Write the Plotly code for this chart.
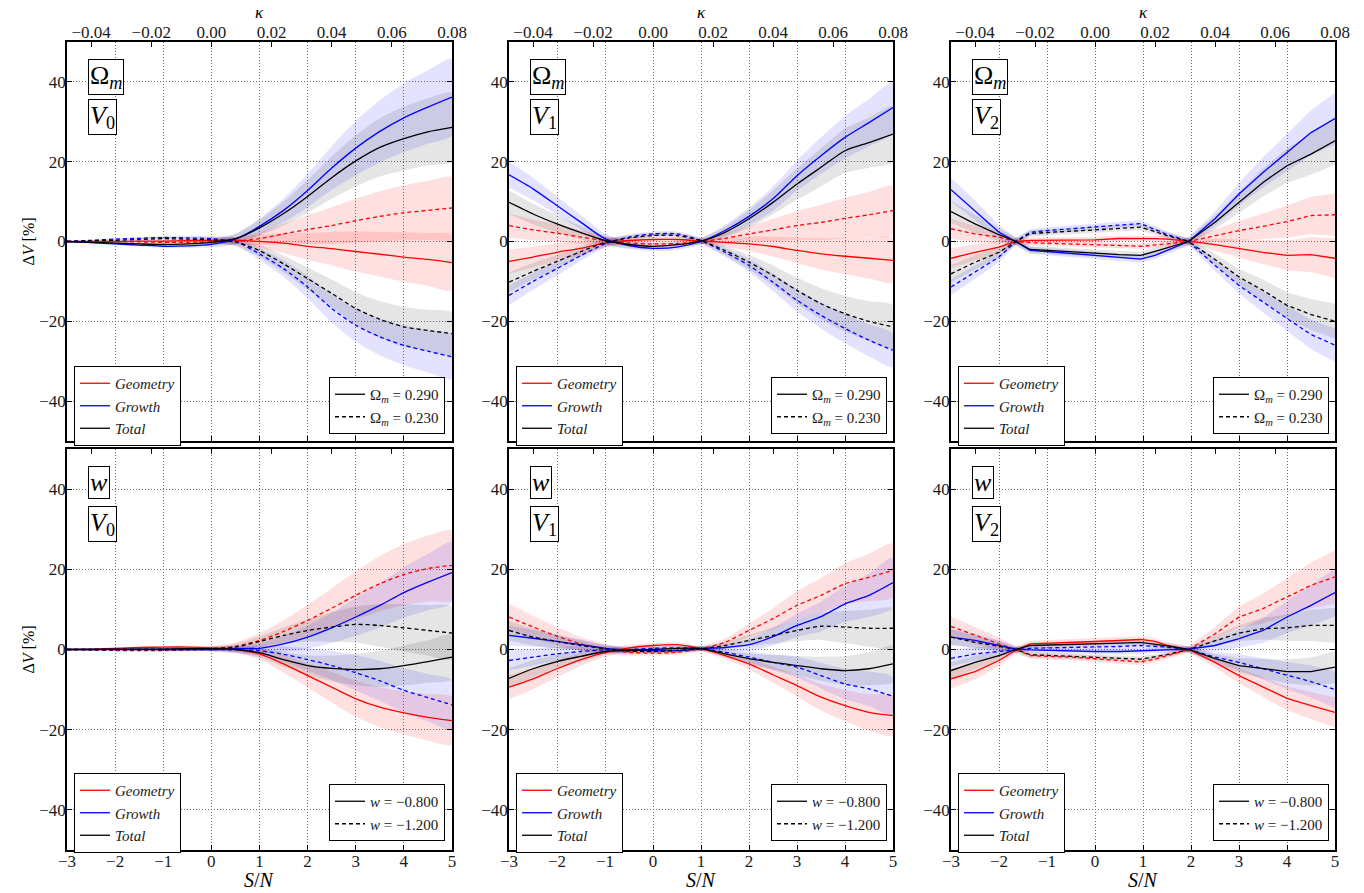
import plotly.graph_objects as go

# ---------------------------------------------------------------- grids / ticks
SN = [-3.0, -2.5, -2.0, -1.5, -1.0, -0.5, 0.0, 0.5, 1.0, 1.5, 2.0, 2.5, 3.0, 3.5, 4.0, 4.5, 5.0]
SN_V2 = [-3.0, -2.5, -2.0, -1.65, -1.35, -1.0, -0.5, 0.0, 0.5, 0.95, 1.25, 1.5, 1.95,
         2.5, 3.0, 3.5, 4.0, 4.5, 5.0]

SN_TICKS = [-3, -2, -1, 0, 1, 2, 3, 4, 5]
Y_TICKS = [-40, -20, 0, 20, 40]
KAPPA_TICKS = [-0.04, -0.02, 0.00, 0.02, 0.04, 0.06, 0.08]
KAPPA_RANGE = [-0.048, 0.08]
SN_RANGE = [-3, 5]
Y_RANGE = [-50, 50]

# ---------------------------------------------------------------- Omega_m, V0
OM_V0_GEO_A = [0, 0, 0, 0.1, 0.1, 0.2, 0.3, 0.3, 0.0, -0.4, -1.2, -1.8, -2.5, -3.2, -3.9, -4.5, -5.3]
OM_V0_GEO_B = [0, 0, 0, -0.1, -0.2, -0.2, -0.1, 0.1, 0.7, 1.9, 3.0, 4.0, 5.2, 6.3, 7.2, 7.8, 8.4]
OM_V0_GRO_A = [0, -0.3, -0.6, -0.9, -1.2, -1.1, -0.7, 0.6, 3.8, 7.8, 12.8, 18.4, 23.4, 27.6, 31.0, 33.7, 36.2]
OM_V0_GRO_B = [0, 0.3, 0.6, 0.8, 1.0, 0.9, 0.7, 0.0, -3.1, -6.8, -11.4, -16.8, -21.0, -23.9, -26.0, -27.5, -28.9]
OM_V0_TOT_A = [0, -0.2, -0.4, -0.6, -0.75, -0.6, -0.2, 0.7, 3.4, 7.0, 11.3, 16.0, 20.2, 23.6, 25.8, 27.5, 28.6]
OM_V0_TOT_B = [0, 0.2, 0.3, 0.5, 0.7, 0.6, 0.4, -0.1, -2.3, -5.6, -9.3, -13.0, -16.8, -19.5, -21.4, -22.3, -23.1]
OM_V0_GEO_A_ERR = [0, 0, 0, 0.1, 0.2, 0.3, 0.5, 0.9, 1.6, 2.5, 3.4, 4.2, 5.0, 5.6, 6.2, 6.6, 7.0]
OM_V0_GEO_B_ERR = [0, 0, 0, 0.1, 0.2, 0.3, 0.5, 0.9, 1.6, 2.6, 3.6, 4.6, 5.5, 6.3, 6.9, 7.4, 7.7]
OM_V0_GRO_A_ERR = [0, 0.1, 0.2, 0.3, 0.4, 0.5, 0.8, 1.3, 2.0, 3.0, 4.2, 5.5, 6.8, 7.8, 8.6, 9.2, 9.6]
OM_V0_GRO_B_ERR = [0, 0.1, 0.2, 0.3, 0.4, 0.5, 0.7, 1.0, 1.5, 2.1, 2.8, 3.5, 4.1, 4.6, 5.0, 5.3, 5.6]
OM_V0_TOT_A_ERR = [0, 0.1, 0.2, 0.3, 0.4, 0.5, 0.8, 1.3, 2.0, 3.0, 4.1, 5.3, 6.4, 7.3, 8.0, 8.4, 8.6]
OM_V0_TOT_B_ERR = [0, 0.1, 0.2, 0.3, 0.4, 0.5, 0.7, 1.0, 1.5, 2.1, 2.8, 3.5, 4.1, 4.6, 5.0, 5.2, 5.3]

# ---------------------------------------------------------------- Omega_m, V1
OM_V1_GEO_A = [-5.0, -3.9, -2.7, -1.7, -0.4, 0.25, 0.5, 0.5, 0.1, -0.2, -0.6, -1.25, -2.25, -3.1, -3.7, -4.2, -4.75]
OM_V1_GEO_B = [4.0, 2.9, 2.1, 1.1, 0.25, -0.4, -0.6, -0.5, 0.0, 0.8, 1.9, 2.9, 4.0, 4.8, 5.8, 6.7, 7.75]
OM_V1_GRO_A = [16.7, 13.2, 9.0, 4.8, 0.7, -1.0, -1.7, -1.4, 0.0, 2.75, 6.3, 10.7, 16.5, 21.5, 26.1, 29.8, 33.6]
OM_V1_GRO_B = [-13.5, -10.0, -6.8, -3.5, -0.6, 1.1, 1.9, 1.9, 0.2, -2.7, -6.0, -10.2, -14.75, -18.5, -21.8, -24.75, -27.25]
OM_V1_TOT_A = [9.8, 6.9, 4.4, 2.2, 0.25, -0.75, -1.2, -0.8, 0.1, 2.3, 5.7, 9.8, 14.4, 18.6, 22.75, 24.8, 26.9]
OM_V1_TOT_B = [-10.2, -7.5, -5.0, -2.5, -0.3, 0.9, 1.5, 1.5, 0.2, -2.25, -5.2, -8.5, -12.25, -15.6, -18.1, -20.0, -21.4]
OM_V1_GEO_A_ERR = [3.0, 2.6, 2.2, 1.7, 1.2, 0.8, 0.6, 0.6, 0.7, 1.2, 1.8, 2.5, 3.2, 3.9, 4.5, 5.1, 5.6]
OM_V1_GEO_B_ERR = [3.0, 2.6, 2.2, 1.7, 1.2, 0.8, 0.6, 0.6, 0.7, 1.3, 2.0, 2.8, 3.6, 4.4, 5.1, 5.7, 6.2]
OM_V1_GRO_A_ERR = [3.2, 2.8, 2.3, 1.8, 1.3, 0.9, 0.7, 0.7, 0.8, 1.4, 2.2, 3.0, 3.8, 4.6, 5.3, 5.9, 6.4]
OM_V1_GRO_B_ERR = [2.5, 2.1, 1.7, 1.3, 0.9, 0.7, 0.6, 0.6, 0.7, 1.1, 1.6, 2.2, 2.8, 3.3, 3.7, 4.0, 4.2]
OM_V1_TOT_A_ERR = [3.0, 2.6, 2.2, 1.7, 1.2, 0.9, 0.7, 0.7, 0.8, 1.4, 2.2, 3.0, 3.9, 4.8, 5.6, 6.3, 7.0]
OM_V1_TOT_B_ERR = [2.5, 2.1, 1.7, 1.3, 0.9, 0.7, 0.6, 0.6, 0.7, 1.2, 1.8, 2.5, 3.2, 3.9, 4.5, 5.0, 5.4]

# ---------------------------------------------------------------- Omega_m, V2
OM_V2_GEO_A = [-4.2, -2.7, -1.4, 0.0, 0.3, 0.3, 0.3, 0.4, 0.75, 0.8, 0.7, 0.6, 0.1, -0.8, -1.8, -2.7, -3.5, -3.3, -4.2]
OM_V2_GEO_B = [3.2, 1.9, 1.1, 0.0, -0.3, -0.4, -0.6, -0.8, -1.0, -1.2, -0.9, -0.6, 0.0, 1.5, 2.75, 3.8, 5.0, 6.5, 6.7]
OM_V2_GRO_A = [13.0, 7.75, 2.3, 0.0, -2.2, -2.5, -3.0, -3.5, -4.0, -4.4, -3.5, -2.3, 0.0, 5.7, 11.9, 17.3, 22.3, 27.3, 30.8]
OM_V2_GRO_B = [-11.4, -7.7, -3.9, 0.0, 2.3, 2.75, 3.2, 3.6, 4.2, 4.5, 3.0, 1.8, 0.0, -6.0, -11.0, -15.2, -19.3, -23.3, -26.0]
OM_V2_TOT_A = [7.5, 4.4, 1.7, 0.0, -2.0, -2.2, -2.6, -2.9, -3.3, -3.5, -2.5, -1.6, 0.0, 4.8, 9.8, 14.8, 19.0, 21.9, 25.25]
OM_V2_TOT_B = [-8.1, -5.2, -2.7, 0.0, 2.0, 2.3, 2.6, 2.9, 3.3, 3.6, 2.5, 1.5, 0.0, -4.5, -8.9, -12.25, -16.0, -18.3, -20.0]
OM_V2_GEO_A_ERR = [2.5, 2.0, 1.5, 0.8, 0.7, 0.7, 0.7, 0.7, 0.7, 0.7, 0.7, 0.8, 0.8, 1.5, 2.2, 3.0, 3.7, 4.4, 5.0]
OM_V2_GEO_B_ERR = [2.5, 2.0, 1.5, 0.8, 0.7, 0.7, 0.7, 0.7, 0.7, 0.7, 0.7, 0.8, 0.8, 1.6, 2.4, 3.2, 4.0, 4.7, 5.3]
OM_V2_GRO_A_ERR = [3.0, 2.5, 1.8, 1.0, 0.9, 0.9, 0.9, 0.9, 0.9, 0.9, 0.9, 1.0, 1.0, 1.8, 2.8, 3.8, 4.7, 5.6, 6.5]
OM_V2_GRO_B_ERR = [2.0, 1.7, 1.3, 0.8, 0.8, 0.8, 0.8, 0.8, 0.8, 0.8, 0.8, 0.8, 0.8, 1.4, 2.0, 2.6, 3.2, 3.7, 4.2]
OM_V2_TOT_A_ERR = [2.8, 2.3, 1.7, 1.0, 0.9, 0.9, 0.9, 0.9, 0.9, 0.9, 0.9, 1.0, 1.0, 1.7, 2.6, 3.5, 4.3, 5.2, 6.0]
OM_V2_TOT_B_ERR = [2.2, 1.8, 1.4, 0.8, 0.8, 0.8, 0.8, 0.8, 0.8, 0.8, 0.8, 0.8, 0.8, 1.4, 2.0, 2.7, 3.3, 3.9, 4.4]

# ---------------------------------------------------------------- w, V0
W_V0_GEO_A = [0, 0.1, 0.3, 0.5, 0.6, 0.6, 0.4, 0.0, -1.1, -3.6, -6.5, -9.4, -12.3, -14.4, -15.8, -16.9, -17.75]
W_V0_GEO_B = [0, -0.1, -0.25, -0.3, -0.25, -0.1, 0.2, 0.8, 2.25, 4.5, 7.25, 10.3, 13.5, 16.4, 18.7, 20.2, 21.0]
W_V0_GRO_A = [0, 0, 0, 0, 0, 0, 0, 0.2, 0.3, 1.4, 3.1, 5.4, 8.1, 11.0, 14.2, 16.8, 19.2]
W_V0_GRO_B = [0, 0, 0, 0, 0, 0, 0, -0.1, -0.3, -1.2, -2.5, -4.0, -5.8, -7.8, -10.2, -12.0, -13.8]
W_V0_TOT_A = [0, 0, 0.1, 0.1, 0.1, 0.2, 0.2, 0.0, -0.8, -2.5, -4.0, -4.7, -5.0, -4.8, -4.0, -3.0, -1.9]
W_V0_TOT_B = [0, 0, 0, 0, 0, 0.1, 0.2, 0.6, 2.0, 3.5, 4.75, 5.6, 6.25, 6.0, 5.4, 4.75, 4.1]
W_V0_GEO_A_ERR = [0, 0, 0.1, 0.2, 0.3, 0.4, 0.5, 0.8, 1.4, 2.2, 3.0, 3.8, 4.5, 5.0, 5.4, 5.8, 6.0]
W_V0_GEO_B_ERR = [0, 0, 0.1, 0.2, 0.3, 0.4, 0.6, 1.0, 1.8, 2.8, 3.9, 5.0, 6.0, 6.9, 7.6, 8.2, 8.7]
W_V0_GRO_A_ERR = [0, 0, 0.1, 0.2, 0.3, 0.4, 0.5, 0.8, 1.3, 2.0, 2.9, 3.8, 4.7, 5.5, 6.3, 7.0, 7.6]
W_V0_GRO_B_ERR = [0, 0, 0.1, 0.2, 0.3, 0.4, 0.5, 0.8, 1.3, 2.0, 2.8, 3.6, 4.4, 5.0, 5.5, 5.9, 6.2]
W_V0_TOT_A_ERR = [0, 0, 0.1, 0.2, 0.3, 0.4, 0.5, 0.8, 1.2, 1.8, 2.5, 3.2, 3.9, 4.5, 5.0, 5.3, 5.5]
W_V0_TOT_B_ERR = [0, 0, 0.1, 0.2, 0.3, 0.4, 0.5, 0.8, 1.3, 2.0, 2.8, 3.7, 4.5, 5.3, 5.9, 6.3, 6.5]

# ---------------------------------------------------------------- w, V1
W_V1_GEO_A = [-9.4, -7.3, -4.8, -2.5, -0.8, 0.4, 1.0, 1.2, 0.2, -1.5, -3.6, -6.3, -9.0, -11.9, -14.0, -15.7, -16.5]
W_V1_GEO_B = [8.1, 5.6, 3.3, 1.4, 0.2, -0.7, -0.9, -0.7, 0.2, 1.8, 4.75, 7.7, 11.0, 13.5, 16.4, 18.0, 19.75]
W_V1_GRO_A = [3.5, 2.8, 2.0, 1.2, 0.3, -0.1, -0.3, -0.3, 0.2, 0.5, 1.2, 3.2, 6.0, 8.2, 11.4, 13.5, 16.7]
W_V1_GRO_B = [-2.75, -1.9, -1.1, -0.5, -0.1, 0.0, 0.3, 0.4, 0.2, -0.7, -1.9, -3.2, -4.4, -6.5, -8.6, -9.8, -11.7]
W_V1_TOT_A = [-7.2, -4.8, -3.0, -1.7, -0.5, -0.25, 0.0, 0.3, 0.2, -1.1, -2.3, -3.2, -4.0, -4.8, -5.25, -4.8, -3.6]
W_V1_TOT_B = [4.75, 3.1, 2.0, 1.0, 0.2, -0.4, -0.5, -0.25, 0.2, 1.0, 2.25, 3.5, 4.75, 5.8, 5.6, 5.3, 5.3]
W_V1_GEO_A_ERR = [3.0, 2.6, 2.1, 1.6, 1.1, 0.7, 0.6, 0.6, 0.6, 0.9, 1.4, 2.0, 2.7, 3.3, 3.9, 4.5, 5.0]
W_V1_GEO_B_ERR = [3.3, 2.8, 2.3, 1.7, 1.2, 0.8, 0.6, 0.6, 0.6, 1.0, 1.7, 2.6, 3.5, 4.3, 5.1, 5.9, 6.7]
W_V1_GRO_A_ERR = [2.5, 2.1, 1.7, 1.3, 0.9, 0.7, 0.6, 0.6, 0.6, 0.9, 1.5, 2.2, 2.9, 3.7, 4.5, 5.4, 6.3]
W_V1_GRO_B_ERR = [2.5, 2.1, 1.7, 1.3, 0.9, 0.7, 0.6, 0.6, 0.6, 0.9, 1.4, 2.0, 2.6, 3.2, 3.8, 4.3, 4.8]
W_V1_TOT_A_ERR = [2.5, 2.1, 1.7, 1.3, 0.9, 0.7, 0.6, 0.6, 0.6, 0.9, 1.3, 1.8, 2.4, 3.0, 3.6, 4.1, 4.5]
W_V1_TOT_B_ERR = [2.5, 2.1, 1.7, 1.3, 0.9, 0.7, 0.6, 0.6, 0.6, 0.9, 1.4, 2.0, 2.7, 3.4, 4.0, 4.6, 5.0]

# ---------------------------------------------------------------- w, V2
W_V2_GEO_A = [-7.3, -5.5, -2.75, -0.2, 1.4, 1.6, 1.8, 2.0, 2.25, 2.5, 2.0, 1.0, 0.0, -3.2, -6.5, -9.4, -12.2, -14.0, -15.7]
W_V2_GEO_B = [5.75, 3.5, 1.4, 0.0, -1.5, -1.7, -1.9, -2.3, -2.75, -3.1, -2.4, -1.6, 0.0, 3.9, 8.1, 10.2, 13.1, 16.0, 18.1]
W_V2_GRO_A = [3.1, 2.25, 1.0, 0.1, -0.1, -0.25, -0.3, -0.5, -0.5, -0.3, -0.2, -0.1, 0.1, 1.0, 2.7, 4.75, 8.1, 11.0, 14.2]
W_V2_GRO_B = [-2.2, -1.1, -0.5, 0.0, 0.3, 0.4, 0.5, 0.6, 0.75, 1.0, 0.8, 0.6, 0.0, -1.9, -3.2, -4.8, -6.5, -8.0, -10.0]
W_V2_TOT_A = [-5.25, -3.2, -1.5, 0.0, 1.0, 1.1, 1.2, 1.4, 1.6, 1.8, 1.4, 0.9, 0.0, -2.3, -4.0, -4.8, -5.5, -5.5, -4.4]
W_V2_TOT_B = [3.1, 1.8, 0.8, 0.0, -1.3, -1.5, -1.8, -2.0, -2.2, -2.4, -1.9, -1.3, 0.0, 2.25, 4.1, 5.2, 5.4, 6.0, 6.0]
W_V2_GEO_A_ERR = [2.5, 2.0, 1.5, 0.8, 0.8, 0.8, 0.8, 0.8, 0.8, 0.8, 0.8, 0.8, 0.8, 1.3, 1.9, 2.5, 3.0, 3.4, 3.7]
W_V2_GEO_B_ERR = [2.5, 2.1, 1.6, 0.8, 0.8, 0.8, 0.8, 0.8, 0.8, 0.8, 0.8, 0.8, 0.8, 1.7, 2.7, 3.7, 4.7, 5.7, 6.7]
W_V2_GRO_A_ERR = [2.0, 1.7, 1.3, 0.7, 0.7, 0.7, 0.7, 0.7, 0.7, 0.7, 0.7, 0.7, 0.7, 1.4, 2.2, 3.1, 4.0, 5.0, 6.0]
W_V2_GRO_B_ERR = [2.0, 1.7, 1.3, 0.7, 0.7, 0.7, 0.7, 0.7, 0.7, 0.7, 0.7, 0.7, 0.7, 1.3, 2.0, 2.7, 3.4, 4.0, 4.6]
W_V2_TOT_A_ERR = [2.0, 1.7, 1.3, 0.7, 0.7, 0.7, 0.7, 0.7, 0.7, 0.7, 0.7, 0.7, 0.7, 1.2, 1.8, 2.4, 3.0, 3.5, 4.0]
W_V2_TOT_B_ERR = [2.0, 1.7, 1.3, 0.7, 0.7, 0.7, 0.7, 0.7, 0.7, 0.7, 0.7, 0.7, 0.7, 1.3, 2.0, 2.7, 3.3, 3.9, 4.4]

# ---------------------------------------------------------------- labels
COMPONENT_NAMES = ["Geometry", "Growth", "Total"]
OM_VALUES = ["0.290", "0.230"]
W_VALUES = ["\u22120.800", "\u22121.200"]


# ---------------------------------------------------------------- assemble panels
def panel(param, mf, x, geo, gro, tot, smooth):
    return dict(param=param, mf=mf, x=x, curves=[("geo", geo), ("gro", gro), ("tot", tot)], smooth=smooth)


PANELS = [
    panel("om", 0, SN,
          (OM_V0_GEO_A, OM_V0_GEO_B, OM_V0_GEO_A_ERR, OM_V0_GEO_B_ERR),
          (OM_V0_GRO_A, OM_V0_GRO_B, OM_V0_GRO_A_ERR, OM_V0_GRO_B_ERR),
          (OM_V0_TOT_A, OM_V0_TOT_B, OM_V0_TOT_A_ERR, OM_V0_TOT_B_ERR), True),
    panel("om", 1, SN,
          (OM_V1_GEO_A, OM_V1_GEO_B, OM_V1_GEO_A_ERR, OM_V1_GEO_B_ERR),
          (OM_V1_GRO_A, OM_V1_GRO_B, OM_V1_GRO_A_ERR, OM_V1_GRO_B_ERR),
          (OM_V1_TOT_A, OM_V1_TOT_B, OM_V1_TOT_A_ERR, OM_V1_TOT_B_ERR), True),
    panel("om", 2, SN_V2,
          (OM_V2_GEO_A, OM_V2_GEO_B, OM_V2_GEO_A_ERR, OM_V2_GEO_B_ERR),
          (OM_V2_GRO_A, OM_V2_GRO_B, OM_V2_GRO_A_ERR, OM_V2_GRO_B_ERR),
          (OM_V2_TOT_A, OM_V2_TOT_B, OM_V2_TOT_A_ERR, OM_V2_TOT_B_ERR), False),
    panel("w", 0, SN,
          (W_V0_GEO_A, W_V0_GEO_B, W_V0_GEO_A_ERR, W_V0_GEO_B_ERR),
          (W_V0_GRO_A, W_V0_GRO_B, W_V0_GRO_A_ERR, W_V0_GRO_B_ERR),
          (W_V0_TOT_A, W_V0_TOT_B, W_V0_TOT_A_ERR, W_V0_TOT_B_ERR), True),
    panel("w", 1, SN,
          (W_V1_GEO_A, W_V1_GEO_B, W_V1_GEO_A_ERR, W_V1_GEO_B_ERR),
          (W_V1_GRO_A, W_V1_GRO_B, W_V1_GRO_A_ERR, W_V1_GRO_B_ERR),
          (W_V1_TOT_A, W_V1_TOT_B, W_V1_TOT_A_ERR, W_V1_TOT_B_ERR), True),
    panel("w", 2, SN_V2,
          (W_V2_GEO_A, W_V2_GEO_B, W_V2_GEO_A_ERR, W_V2_GEO_B_ERR),
          (W_V2_GRO_A, W_V2_GRO_B, W_V2_GRO_A_ERR, W_V2_GRO_B_ERR),
          (W_V2_TOT_A, W_V2_TOT_B, W_V2_TOT_A_ERR, W_V2_TOT_B_ERR), False),
]

# ---------------------------------------------------------------- styling
W_PX, H_PX = 1364, 893
COL_X = [(67, 452), (509, 893), (951, 1335)]
ROW_Y = [(42, 441), (449, 850)]
FONT = "Liberation Serif"
TXT = "#1a1a1a"
LINE_COLORS = {"geo": "#ff0000", "gro": "#0000ff", "tot": "#000000"}
BAND_COLORS = {"geo": "rgba(255,0,0,0.12)", "gro": "rgba(0,0,255,0.11)", "tot": "rgba(0,0,0,0.10)"}
DASH = "4px,3px"
GRID = dict(showgrid=True, gridcolor="#6e6e6e", gridwidth=1, griddash="1px,2px")
TICKS = dict(ticks="inside", ticklen=5, tickwidth=1, tickcolor="black",
             tickfont=dict(family=FONT, size=17, color=TXT))


def px_x(v):
    return v / W_PX


def px_y(v):
    return 1 - v / H_PX


fig = go.Figure()
layout = dict(
    width=W_PX, height=H_PX, autosize=False,
    margin=dict(l=0, r=0, t=0, b=0, autoexpand=False),
    paper_bgcolor="white", plot_bgcolor="white",
    font=dict(family=FONT, size=17, color=TXT),
    showlegend=True,
)
annotations = []

for i, p in enumerate(PANELS):
    r, c = divmod(i, 3)
    x0, x1 = COL_X[c]
    y0, y1 = ROW_Y[r]
    xa = "x" if i == 0 else f"x{i + 1}"
    ya = "y" if i == 0 else f"y{i + 1}"
    ka = f"x{i + 7}"
    shape = "spline" if p["smooth"] else "linear"
    xs = p["x"]

    # shaded uncertainty bands
    for comp, (va, vb, ea, eb) in p["curves"]:
        for v, e in ((va, ea), (vb, eb)):
            upper = [a + b for a, b in zip(v, e)]
            lower = [a - b for a, b in zip(v, e)]
            fig.add_trace(go.Scatter(
                x=list(xs) + list(xs)[::-1], y=upper + lower[::-1],
                xaxis=xa, yaxis=ya, mode="lines", fill="toself",
                fillcolor=BAND_COLORS[comp],
                line=dict(width=0, shape=shape, smoothing=0.7),
                hoverinfo="skip", showlegend=False))

    # mean curves
    for comp, (va, vb, ea, eb) in p["curves"]:
        for v, dash in ((va, "solid"), (vb, DASH)):
            fig.add_trace(go.Scatter(
                x=xs, y=v, xaxis=xa, yaxis=ya, mode="lines",
                line=dict(color=LINE_COLORS[comp], width=1.3, dash=dash, shape=shape, smoothing=0.7),
                showlegend=False))

    # legend entries (component colours / parameter values)
    leg_a = "legend" if i == 0 else f"legend{2 * i + 1}"
    leg_b = f"legend{2 * i + 2}"
    for comp, name in zip(("geo", "gro", "tot"), COMPONENT_NAMES):
        fig.add_trace(go.Scatter(
            x=[None], y=[None], xaxis=ka, yaxis=ya, mode="lines",
            line=dict(color=LINE_COLORS[comp], width=1.3),
            name=f"<i>{name}</i>", legend=leg_a, hoverinfo="skip"))
    if p["param"] == "om":
        names = [f"\u03a9<sub><i>m</i></sub> = {v}" for v in OM_VALUES]
    else:
        names = [f"<i>w</i> = {v}" for v in W_VALUES]
    for name, dash in zip(names, ("solid", DASH)):
        fig.add_trace(go.Scatter(
            x=[None], y=[None], xaxis=ka, yaxis=ya, mode="lines",
            line=dict(color="black", width=1.3, dash=dash),
            name=name, legend=leg_b, hoverinfo="skip"))

    leg_common = dict(bgcolor="white", bordercolor="black", borderwidth=1,
                      font=dict(family=FONT, size=15, color=TXT),
                      tracegroupgap=0, itemwidth=30, traceorder="normal")
    layout[leg_a] = dict(x=px_x(x0 + 7), y=px_y(y0 + 324), xanchor="left", yanchor="top", **leg_common)
    layout[leg_b] = dict(x=px_x(x0 + 378), y=px_y(y0 + 392), xanchor="right", yanchor="bottom", **leg_common)

    # axes
    dom_x = [px_x(x0), px_x(x1)]
    dom_y = [px_y(y1), px_y(y0)]
    xkey = "xaxis" if i == 0 else f"xaxis{i + 1}"
    ykey = "yaxis" if i == 0 else f"yaxis{i + 1}"
    layout[xkey] = dict(
        domain=dom_x, anchor=ya, range=SN_RANGE, tickvals=SN_TICKS,
        showticklabels=(r == 1), automargin=False, ticklabelstandoff=-5,
        showline=True, linecolor="black", linewidth=1.6, mirror=True, zeroline=False,
        **GRID, **TICKS)
    layout[ykey] = dict(
        domain=dom_y, anchor=xa, range=Y_RANGE, tickvals=Y_TICKS, automargin=False,
        ticklabelstandoff=-4,
        showline=True, linecolor="black", linewidth=1.6, mirror="ticks", zeroline=False,
        **GRID, **TICKS)
    layout[f"xaxis{i + 7}"] = dict(
        overlaying=xa, anchor=ya, side="top", range=KAPPA_RANGE, tickvals=KAPPA_TICKS,
        tickformat=".2f", showticklabels=(r == 0), automargin=False, ticklabelstandoff=-5,
        showline=True, linecolor="black", linewidth=1.6,
        showgrid=False, zeroline=False, **TICKS)

    # parameter / functional labels
    ptxt = "\u03a9<sub><i>m</i></sub>" if p["param"] == "om" else "<i>w</i>"
    box = dict(xref="paper", yref="paper", xanchor="left", yanchor="top", showarrow=False,
               bordercolor="black", borderwidth=1, borderpad=1, bgcolor="white",
               font=dict(family=FONT, size=26, color="black"))
    annotations.append(dict(x=px_x(x0 + 21), y=px_y(y0 + 17), text=ptxt, **box))
    annotations.append(dict(x=px_x(x0 + 21), y=px_y(y0 + 57),
                            text="<i>V</i><sub>%d</sub>" % p["mf"], **box))

    # axis titles
    if r == 0:
        annotations.append(dict(x=px_x((x0 + x1) / 2), y=px_y(12), xref="paper", yref="paper",
                                xanchor="center", yanchor="middle",
                                text="<i>\u03ba</i>", showarrow=False,
                                font=dict(family=FONT, size=17, color="black")))
    else:
        annotations.append(dict(x=px_x((x0 + x1) / 2), y=px_y(880), xref="paper", yref="paper",
                                xanchor="center", yanchor="middle",
                                text="<i>S</i>/<i>N</i>", showarrow=False,
                                font=dict(family=FONT, size=20, color="black")))
    if c == 0:
        annotations.append(dict(x=px_x(28), y=px_y((y0 + y1) / 2), xref="paper", yref="paper",
                                xanchor="center", yanchor="middle",
                                text="\u0394<i>V</i> [%]", textangle=-90, showarrow=False,
                                font=dict(family=FONT, size=16, color="black")))

layout["annotations"] = annotations
fig.update_layout(**layout)
fig.write_html("out.html")
